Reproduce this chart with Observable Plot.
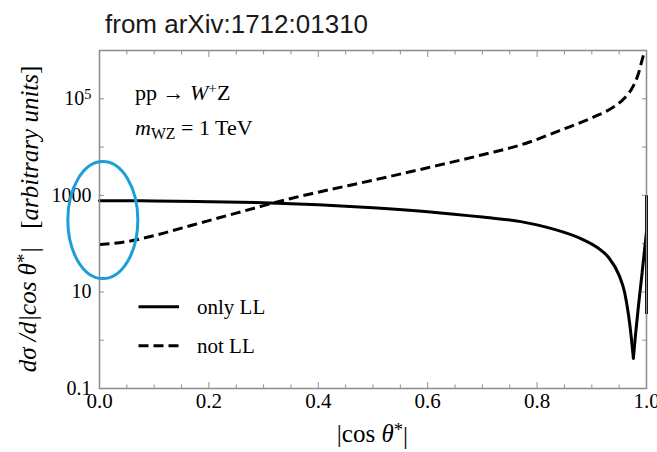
<!DOCTYPE html>
<html>
<head>
<meta charset="utf-8">
<script src="https://cdn.jsdelivr.net/npm/d3@7"></script>
<script src="https://cdn.jsdelivr.net/npm/@observablehq/plot@0.6"></script>
<style>
  html, body { margin: 0; padding: 0; background: #fff; }
  #title {
    height: 40px; box-sizing: border-box;
    padding-left: 105px; padding-top: 11px;
    font-family: "Liberation Sans", Arial, sans-serif;
    font-size: 26px; line-height: 1; color: #1a1a1a;
  }
  #chart svg { display: block; }
</style>
</head>
<body>
<div id="title">from arXiv:1712:01310</div>
<div id="chart"></div>
<script>
// ---- data ----
const solidX = [0, 0.1, 0.2, 0.3, 0.4, 0.5, 0.6, 0.7, 0.77, 0.83, 0.88, 0.91, 0.93, 0.95, 0.96, 0.967, 0.972, 0.976, 0.98, 0.985, 0.992, 1.0, 1.0, 1.0];
const solidY = [777, 766, 741, 707, 642, 557, 460, 355, 286, 200, 127, 83, 53, 22, 9.8, 3.4, 1.2, 0.42, 1.33, 4.8, 25, 178, 1000, 3.5];
const solidDipIndex = 17; // minimum of the solid curve

const dashedX = [0, 0.05, 0.1, 0.15, 0.2, 0.25, 0.3, 0.35, 0.4, 0.5, 0.6, 0.7, 0.78, 0.84, 0.9, 0.94, 0.96, 0.975, 0.985, 0.992, 0.997];
const dashedY = [95.7, 110, 147, 210, 300, 429, 612, 863, 1164, 2060, 3730, 6930, 12000, 21700, 40300, 68000, 104000, 176000, 327000, 637000, 1020000];

const xMajorTicks = [0, 0.2, 0.4, 0.6, 0.8, 1.0];
const xMajorLabels = ["0.0", "0.2", "0.4", "0.6", "0.8", "1.0"];
const xMinorTicks = [0.05, 0.1, 0.15, 0.25, 0.3, 0.35, 0.45, 0.5, 0.55, 0.65, 0.7, 0.75, 0.85, 0.9, 0.95];
const yTicks = [0.1, 1, 10, 100, 1000, 1e4, 1e5, 1e6];
const yTickLabels = ["0.1", "", "10", "", "1000", "", "10^5", ""];

const seriesNames = ["only LL", "not LL"];
const ellipseCenter = [0.007, 300];   // highlighted region (data coords)

// ---- build ----
const solidData = solidX.map((x, i) => ({x, y: solidY[i], i}));
const dashedData = dashedX.map((x, i) => ({x, y: dashedY[i]}));
const xLabelOf = new Map(xMajorTicks.map((v, i) => [v, xMajorLabels[i]]));
const yLabelOf = new Map(yTicks.map((v, i) => [v, yTickLabels[i]]));

const serif = '"Liberation Serif", "Times New Roman", serif';
const W = 657, H = 412, mL = 99, mR = 11, mT = 10, mB = 64;
const gray = "#8f8f8f";

const plot = Plot.plot({
  width: W, height: H,
  marginLeft: mL, marginRight: mR, marginTop: mT, marginBottom: mB,
  style: {fontFamily: serif, fontSize: "21px", background: "#fff", color: "#000", overflow: "visible"},
  x: {domain: [0, 1]},
  y: {type: "log", domain: [0.1, 1e6]},
  marks: [
    Plot.frame({stroke: gray, strokeWidth: 1.3}),
    // inward tick marks, all four sides
    Plot.axisX(xMinorTicks, {anchor: "bottom", tickSize: 3.5, dy: -3.5, stroke: gray, fill: "none", label: null}),
    Plot.axisX(xMajorTicks, {anchor: "bottom", tickSize: 6, dy: -6, stroke: gray, fill: "none", label: null}),
    Plot.axisX(xMinorTicks, {anchor: "top", tickSize: 3.5, dy: 3.5, stroke: gray, fill: "none", label: null}),
    Plot.axisX(xMajorTicks, {anchor: "top", tickSize: 6, dy: 6, stroke: gray, fill: "none", label: null}),
    Plot.axisY(yTicks, {anchor: "left", tickSize: 5, dx: 5, stroke: gray, fill: "none", label: null}),
    Plot.axisY(yTicks, {anchor: "right", tickSize: 5, dx: -5, stroke: gray, fill: "none", label: null}),
    // tick labels
    Plot.axisX(xMajorTicks, {anchor: "bottom", tickSize: 0, tickPadding: 5, tickFormat: d => xLabelOf.get(d), label: null, fill: "#000"}),
    Plot.axisY(yTicks, {anchor: "left", tickSize: 0, tickPadding: 8, tickFormat: d => yLabelOf.get(d), label: null, fill: "#000", fontSize: 20}),
    // curves
    Plot.line(solidData, {filter: d => d.i <= solidDipIndex, x: "x", y: "y", stroke: "#000", strokeWidth: 3, curve: "monotone-x"}),
    Plot.line(solidData, {filter: d => d.i >= solidDipIndex, x: "x", y: "y", stroke: "#000", strokeWidth: 3, strokeLinejoin: "miter", strokeLinecap: "butt"}),
    Plot.line(dashedData, {x: "x", y: "y", stroke: "#000", strokeWidth: 3, strokeDasharray: "10,5", strokeLinecap: "butt", curve: "monotone-x"})
  ]
});

document.getElementById("chart").appendChild(plot);

const svg = d3.select(plot);
// superscripts in tick labels
svg.selectAll("text").each(function () {
  const t = this.textContent;
  if (t.includes("^")) {
    const [base, sup] = t.split("^");
    const sel = d3.select(this);
    sel.text(base);
    sel.append("tspan").attr("dy", "-0.45em").attr("font-size", "0.72em").text(sup);
  }
});

const xs = plot.scale("x"), ys = plot.scale("y");
const fLeft = mL, fTop = mT, fBottom = H - mB, fRight = W - mR;

// frame outline drawn again on top from the scale ranges
const [rx0, rx1] = xs.range, [ry0, ry1] = ys.range;
svg.append("rect")
  .attr("x", Math.min(rx0, rx1) + 0.5).attr("y", Math.min(ry0, ry1) + 0.5)
  .attr("width", Math.abs(rx1 - rx0)).attr("height", Math.abs(ry1 - ry0))
  .attr("fill", "none").attr("stroke", gray).attr("stroke-width", 1.3);

const g = svg.append("g").attr("font-family", serif).attr("fill", "#000").attr("text-anchor", "start");

// process annotation
const a1 = g.append("text").attr("x", fLeft + 36).attr("y", fTop + 49.5).attr("font-size", 22);
a1.append("tspan").text("pp \u2192 ");
a1.append("tspan").attr("font-style", "italic").text("W");
a1.append("tspan").attr("dy", "-0.42em").attr("font-size", "0.7em").text("+");
a1.append("tspan").attr("dy", "0.3em").text("Z");

const a2 = g.append("text").attr("x", fLeft + 36).attr("y", fTop + 85).attr("font-size", 22);
a2.append("tspan").attr("font-style", "italic").text("m");
a2.append("tspan").attr("dy", "0.25em").attr("font-size", "0.72em").text("WZ");
a2.append("tspan").attr("dy", "-0.18em").text(" = 1 TeV");

// legend
const legY = [fTop + 256.7, fTop + 295.7];
const legDash = [null, "10,5"];
legY.forEach((yy, i) => {
  const ln = g.append("line").attr("x1", fLeft + 39.5).attr("x2", fLeft + 80).attr("y1", yy).attr("y2", yy)
    .attr("stroke", "#000").attr("stroke-width", 3);
  if (legDash[i]) ln.attr("stroke-dasharray", legDash[i]);
  g.append("text").attr("x", fLeft + 98).attr("y", yy + 7.5).attr("font-size", 21).text(seriesNames[i]);
});

// x-axis label
const xl = g.append("text").attr("x", (fLeft + fRight) / 2).attr("y", fBottom + 54)
  .attr("text-anchor", "middle").attr("font-size", 25);
xl.append("tspan").text("|cos ");
xl.append("tspan").attr("font-style", "italic").text("\u03B8");
xl.append("tspan").attr("dy", "-0.3em").attr("font-size", "0.75em").text("*");
xl.append("tspan").attr("dy", "0.3em").text("|");

// y-axis label (rotated)
const yl = g.append("text").attr("transform", `translate(36,${(fTop + fBottom) / 2}) rotate(-90)`)
  .attr("text-anchor", "middle").attr("font-size", 25);
yl.append("tspan").attr("font-style", "italic").text("d\u03C3 /d|cos \u03B8");
yl.append("tspan").attr("dy", "-0.3em").attr("font-size", "0.75em").text("*");
yl.append("tspan").attr("dy", "0.3em").attr("font-style", "italic").text("|");
yl.append("tspan").attr("dx", 18).text("[");
yl.append("tspan").attr("font-style", "italic").text("arbitrary units");
yl.append("tspan").text("]");

// highlight ellipse
svg.append("ellipse")
  .attr("cx", xs.apply(ellipseCenter[0])).attr("cy", ys.apply(ellipseCenter[1]))
  .attr("rx", 35).attr("ry", 58.5)
  .attr("fill", "none").attr("stroke", "#1c9ed8").attr("stroke-width", 3);
</script>
</body>
</html>
